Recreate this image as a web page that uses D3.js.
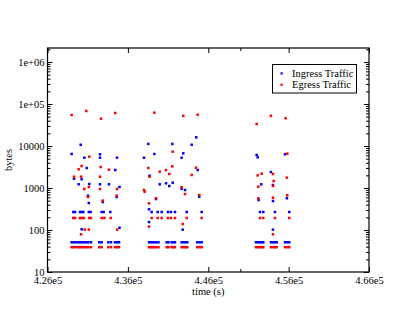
<!DOCTYPE html>
<html>
<head>
<meta charset="utf-8">
<script src="https://cdn.jsdelivr.net/npm/d3@7"></script>
<style>
  body { margin: 0; background: #fff; }
  svg { display: block; font-family: "Liberation Serif", "DejaVu Serif", serif; }
  .tick line { stroke: #000; }
  .tick text { fill: #000; }
</style>
</head>
<body>
<svg id="chart" width="415" height="321"></svg>
<script>
// ingress traffic [time (s), bytes]
var ingress = [
  [430130, 10700], [429000, 6460], [430580, 5260], [432530, 6340], [432530, 5260],
  [434650, 5260], [429300, 1660], [430250, 1610], [430880, 2990], [434430, 2680],
  [429880, 1225], [431200, 1245], [432530, 1225], [433650, 1225], [434960, 1057],
  [431040, 656], [432870, 464], [434610, 611], [431140, 440], [430250, 104], [434960, 113],
  [429210, 268], [429420, 268], [430040, 268], [430250, 268], [430450, 268],
  [431140, 268], [431370, 268], [432740, 268], [432990, 268], [433810, 268],
  [429000, 51], [429250, 51], [429510, 51], [429830, 51], [430080, 51], [430330, 51],
  [430580, 51], [430830, 51], [431080, 51], [431410, 51], [432440, 51], [432740, 51],
  [433560, 51], [433900, 51], [434400, 51], [434650, 51], [434900, 51],
  // second burst
  [444510, 16100], [438540, 11200], [441530, 11200], [443940, 10700], [439290, 6460],
  [442890, 6700], [438000, 5260], [442690, 5260], [444690, 2680], [438710, 1960],
  [439960, 1225], [440740, 1294], [441150, 1116], [441580, 1337], [443110, 896],
  [444880, 621], [442690, 960], [439500, 547], [438630, 311], [438630, 155], [442820, 102],
  [438960, 268], [439710, 268], [440210, 268], [440990, 268], [441360, 268],
  [441860, 268], [443320, 268], [445180, 268],
  [438630, 51], [438880, 51], [439090, 51], [439290, 51], [439540, 51], [439810, 51],
  [440830, 51], [441050, 51], [441450, 51], [441650, 51], [441860, 51], [442690, 51],
  [442910, 51], [443160, 51], [443390, 51], [444640, 51], [444920, 51], [445180, 51],
  // third burst
  [452020, 6110], [452150, 5380], [455550, 6340], [453800, 2400], [452600, 1225],
  [454050, 1180], [452270, 518], [454050, 490], [455790, 569], [454050, 102],
  [452440, 268], [452850, 268], [454300, 268], [456080, 268],
  [451940, 51], [452190, 51], [452440, 51], [452690, 51], [452850, 51],
  [453800, 51], [454050, 51], [454300, 51], [454510, 51],
  [455550, 51], [455830, 51], [456080, 51]
];

// egress traffic [time (s), bytes]
var egress = [
  [429000, 54700], [430830, 68100], [432660, 44700], [434430, 61100],
  [431200, 5560], [430250, 3340], [429880, 2790], [432620, 3160], [433650, 2730],
  [429300, 1860], [430170, 1860], [432530, 1860], [430580, 947], [431140, 1057],
  [432530, 947], [434650, 947], [431040, 611], [432870, 500], [434610, 656],
  [430640, 102], [431140, 102], [430170, 79], [434680, 102],
  [429210, 193], [429420, 193], [430040, 193], [430250, 193], [430530, 193],
  [431200, 193], [431410, 193], [432740, 193], [433070, 193], [433860, 193],
  [429000, 39], [429250, 39], [429510, 39], [429830, 39], [430080, 39], [430330, 39],
  [430580, 39], [430830, 39], [431080, 39], [431410, 39], [432440, 39], [432740, 39],
  [433560, 39], [433900, 39], [434400, 39], [434650, 39], [434900, 39],
  // second burst
  [439290, 62100], [442890, 52400], [444690, 55600], [441580, 7310],
  [438540, 2990], [439960, 2450], [440740, 2680], [441530, 3290], [441150, 2150],
  [444470, 3040], [443940, 2040], [438710, 1860], [442690, 1040], [438000, 896],
  [438090, 817], [443110, 719], [439500, 569], [444880, 681], [438630, 432],
  [438630, 120], [442820, 139],
  [438960, 193], [439710, 193], [440210, 193], [440990, 193], [441360, 193],
  [441860, 193], [443320, 193], [445180, 193],
  [438630, 39], [438880, 39], [439090, 39], [439290, 39], [439540, 39], [439810, 39],
  [440830, 39], [441050, 39], [441450, 39], [441650, 39], [441860, 39], [442690, 39],
  [442910, 39], [443160, 39], [443390, 39], [444640, 39], [444920, 39], [445180, 39],
  // third burst
  [453800, 52400], [455630, 45700], [452020, 33400], [455830, 6560],
  [452650, 2190], [452150, 2000], [454050, 2150], [455790, 1760], [454140, 1470],
  [452220, 1075], [454050, 1120], [452220, 569], [454050, 588], [455830, 670],
  [454050, 79],
  [452440, 193], [452850, 193], [454300, 193], [456080, 193],
  [451940, 39], [452190, 39], [452440, 39], [452690, 39], [452850, 39],
  [453800, 39], [454050, 39], [454300, 39], [454510, 39],
  [455550, 39], [455830, 39], [456080, 39]
];

var xTicks = [426000, 436000, 446000, 456000, 466000];
var xTickLabels = ["4.26e5", "4.36e5", "4.46e5", "4.56e5", "4.66e5"];
var xMinorTicks = [450000];
var yTicks = [10, 100, 1000, 10000, 100000, 1000000];
var yTickLabels = ["10", "100", "1000", "10000", "1e+05", "1e+06"];
var seriesNames = ["Ingress Traffic", "Egress Traffic"];
var seriesColors = ["#0000ff", "#ff0000"];

var plotLeft = 47.5, plotRight = 369, plotTop = 48, plotBottom = 272;

var svg = d3.select("#chart");
svg.append("rect").attr("width", 415).attr("height", 321).attr("fill", "#fff");

var x = d3.scaleLinear().domain([426000, 466000]).range([plotLeft, plotRight]);
var y = d3.scaleLog().domain([10, 2.154e6]).range([plotBottom, plotTop]);

// log minor ticks 20..90, 200..900 etc
var yMinor = [];
yTicks.forEach(function (d) {
  for (var k = 2; k <= 9; k++) {
    if (d * k <= y.domain()[1]) yMinor.push(d * k);
  }
});

function addAxis(axis, tx, ty) {
  var g = svg.append("g")
    .attr("transform", "translate(" + tx + "," + ty + ")")
    .style("font-family", "'Liberation Serif', serif")
    .style("font-size", "10.5px")
    .call(axis);
  g.select(".domain").remove();
  return g;
}

// bottom / top
addAxis(d3.axisBottom(x).tickValues(xTicks).tickSize(-5).tickPadding(5)
  .tickFormat(function (d, i) { return xTickLabels[i]; }), 0, plotBottom);
addAxis(d3.axisBottom(x).tickValues(xMinorTicks).tickSize(-3).tickFormat(""), 0, plotBottom);
addAxis(d3.axisTop(x).tickValues(xTicks).tickSize(-5).tickFormat(""), 0, plotTop);
addAxis(d3.axisTop(x).tickValues(xMinorTicks).tickSize(-3).tickFormat(""), 0, plotTop);

// left / right
addAxis(d3.axisLeft(y).tickValues(yTicks).tickSize(-5).tickPadding(3)
  .tickFormat(function (d, i) { return yTickLabels[i]; }), plotLeft, 0);
addAxis(d3.axisLeft(y).tickValues(yMinor).tickSize(-3).tickFormat(""), plotLeft, 0);
addAxis(d3.axisRight(y).tickValues(yTicks).tickSize(-5).tickFormat(""), plotRight, 0);
addAxis(d3.axisRight(y).tickValues(yMinor).tickSize(-3).tickFormat(""), plotRight, 0);

// frame
svg.append("rect")
  .attr("x", plotLeft).attr("y", plotTop)
  .attr("width", plotRight - plotLeft).attr("height", plotBottom - plotTop)
  .attr("fill", "none").attr("stroke", "#000").attr("stroke-width", 1.2);

// points
[ingress, egress].forEach(function (data, si) {
  svg.append("g").selectAll("rect")
    .data(data)
    .join("rect")
    .attr("x", function (d) { return x(d[0]) - 1.25; })
    .attr("y", function (d) { return y(d[1]) - 1.25; })
    .attr("width", 2.5).attr("height", 2.5)
    .attr("fill", seriesColors[si]);
});

// axis titles
svg.append("text")
  .attr("x", (plotLeft + plotRight) / 2).attr("y", 295)
  .attr("text-anchor", "middle")
  .style("font-size", "10.5px")
  .text("time (s)");

svg.append("text")
  .attr("transform", "translate(12," + (plotTop + plotBottom) / 2 + ") rotate(-90)")
  .attr("text-anchor", "middle")
  .style("font-size", "10.5px")
  .text("bytes");

// legend
var legend = svg.append("g");
legend.append("rect")
  .attr("x", 272.5).attr("y", 64.5).attr("width", 84).attr("height", 28.5)
  .attr("fill", "#fff").attr("stroke", "#000").attr("stroke-width", 1);
seriesNames.forEach(function (name, i) {
  legend.append("rect")
    .attr("x", 280.5).attr("y", 72.3 + i * 11.4)
    .attr("width", 2.2).attr("height", 2.2)
    .attr("fill", seriesColors[i]);
  legend.append("text")
    .attr("x", 292).attr("y", 77 + i * 11.4)
    .style("font-size", "10.5px")
    .text(name);
});
</script>
</body>
</html>
